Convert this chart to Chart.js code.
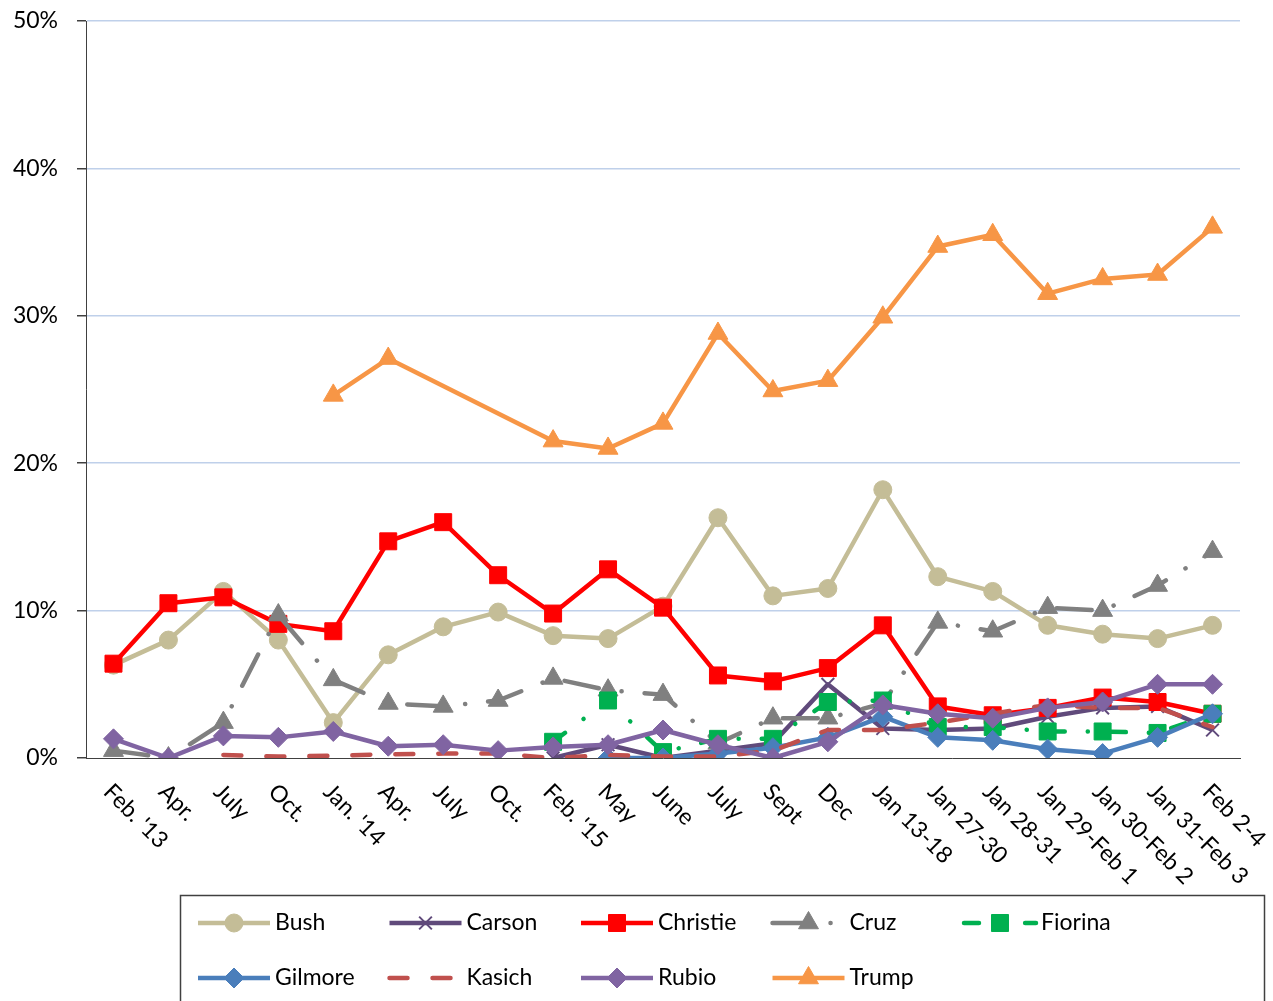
<!DOCTYPE html>
<html>
<head>
<meta charset="utf-8">
<script src="https://cdn.jsdelivr.net/npm/chart.js@4/dist/chart.umd.min.js"></script>
<style>
  html, body { margin: 0; padding: 0; background: #fff; }
  #wrap { width: 1273px; height: 1001px; position: relative; }
</style>
</head>
<body>
<div id="wrap"><canvas id="pollChart"></canvas></div>
<script>
// Poll data (percent)
const labels = ["Feb. '13", 'Apr.', 'July', 'Oct.', "Jan. '14", 'Apr.', 'July', 'Oct.', "Feb. '15", 'May', 'June', 'July', 'Sept', 'Dec',
    'Jan 13-18', 'Jan 27-30', 'Jan 28-31', 'Jan 29-Feb 1', 'Jan 30-Feb 2', 'Jan 31-Feb 3', 'Feb 2-4'];

const bush     = [6.3, 8.0, 11.3, 8.0, 2.4, 7.0, 8.9, 9.9, 8.3, 8.1, 10.3, 16.3, 11.0, 11.5, 18.2, 12.3, 11.3, 9.0, 8.4, 8.1, 9.0];
const carson   = [null, null, null, null, null, null, null, null, 0, 0.9, 0, 0.5, 1.0, 5.0, 2.0, 1.9, 2.0, 2.8, 3.4, 3.5, 1.9];
const christie = [6.4, 10.5, 10.9, 9.1, 8.6, 14.7, 16.0, 12.4, 9.8, 12.8, 10.2, 5.6, 5.2, 6.1, 9.0, 3.5, 2.9, 3.4, 4.1, 3.8, 3.0];
const cruz     = [0.5, 0, 2.4, 9.7, 5.3, 3.7, 3.5, 3.9, 5.4, 4.6, 4.3, 1.0, 2.7, 2.7, 3.7, 9.2, 8.6, 10.2, 10.0, 11.7, 14.0];
const fiorina  = [null, null, null, null, null, null, null, null, 1.1, 3.9, 0.4, 1.3, 1.3, 3.8, 3.9, 2.1, 2.1, 1.8, 1.8, 1.7, 3.0];
const gilmore  = [null, null, null, null, null, null, null, null, null, 0, 0, 0.3, 0.7, 1.4, 2.8, 1.4, 1.2, 0.6, 0.3, 1.4, 3.0];
const kasich   = [null, null, 0.2, 0.1, 0.15, 0.25, 0.3, 0.3, 0, 0.2, 0.1, 0.1, 0.5, 1.9, 1.9, 2.4, 3.0, 3.6, 3.4, 3.4, 2.1];
const rubio    = [1.3, 0, 1.5, 1.4, 1.8, 0.8, 0.9, 0.5, 0.75, 0.9, 1.9, 0.9, 0, 1.1, 3.6, 3.0, 2.7, 3.4, 3.8, 5.0, 5.0];
const trump    = [null, null, null, null, 24.6, 27.1, null, null, 21.5, 21.0, 22.7, 28.8, 24.9, 25.6, 29.9, 34.7, 35.5, 31.5, 32.5, 32.8, 36.0];

const names  = ['Bush', 'Carson', 'Christie', 'Cruz', 'Fiorina', 'Gilmore', 'Kasich', 'Rubio', 'Trump'];
const series = [bush, carson, christie, cruz, fiorina, gilmore, kasich, rubio, trump];

const FAMILY = 'Lato, "Open Sans", sans-serif';
const FONT = '23px ' + FAMILY;

// look of each line
const styles = {
    Bush:     { color: '#C4BD97', point: 'circle',   radius: 9 },
    Carson:   { color: '#604A7B', point: 'crossRot', radius: 9, pointWidth: 2 },
    Christie: { color: '#FF0000', point: 'rect',     radius: 12 },
    Cruz:     { color: '#808080', point: 'triangle', radius: 11.5, dash: [35, 23, 0.1, 23] },
    Fiorina:  { color: '#00B050', point: 'rect',     radius: 12, dash: [15, 23, 0.1, 23] },
    Gilmore:  { color: '#4A7EBB', point: 'rectRot',  radius: 10 },
    Kasich:   { color: '#C0504D', point: false,      radius: 0,  dash: [18, 25] },
    Rubio:    { color: '#8064A2', point: 'rectRot',  radius: 10 },
    Trump:    { color: '#F79646', point: 'triangle', radius: 11.5 }
};

const datasets = names.map(function(name, i) {
    const s = styles[name];
    return {
        label: name,
        data: series[i],
        borderColor: s.color,
        backgroundColor: s.color,
        borderWidth: 4.5,
        borderDash: s.dash || [],
        borderCapStyle: s.dash ? 'round' : 'butt',
        borderJoinStyle: 'round',
        pointStyle: s.point,
        pointRadius: s.radius,
        pointHoverRadius: s.radius,
        pointBorderWidth: s.pointWidth || 1,
        pointBackgroundColor: s.color,
        pointBorderColor: s.color,
        spanGaps: true,
        tension: 0,
        order: names.length - i
    };
});

// x labels slanted downward to the right
const slantedLabels = {
    id: 'slantedLabels',
    afterDraw(chart) {
        const ctx = chart.ctx;
        const xs = chart.scales.x;
        ctx.save();
        ctx.font = FONT;
        ctx.fillStyle = '#000';
        ctx.textAlign = 'left';
        ctx.textBaseline = 'middle';
        labels.forEach(function(lab, i) {
            const x = xs.getPixelForTick(i);
            ctx.save();
            ctx.translate(x - 6, xs.top + 30);
            ctx.rotate(Math.PI / 4);
            ctx.fillText(lab, 0, 0);
            ctx.restore();
        });
        ctx.restore();
    }
};

// boxed legend, 5 columns
const gridLegend = {
    id: 'gridLegend',
    afterDraw(chart) {
        const ctx = chart.ctx;
        const top = chart.chartArea.bottom + 137;
        ctx.save();
        ctx.strokeStyle = '#404040';
        ctx.lineWidth = 1.5;
        ctx.strokeRect(180.5, top + 0.5, 1084, 200);
        chart.data.datasets.forEach(function(ds, i) {
            const x = 196 + (i % 5) * 191.5;
            const y = top + 28 + Math.floor(i / 5) * 55;
            ctx.save();
            ctx.strokeStyle = ds.borderColor;
            ctx.lineWidth = ds.borderWidth;
            ctx.lineCap = ds.borderDash.length ? 'round' : 'butt';
            ctx.setLineDash(ds.borderDash);
            ctx.beginPath();
            ctx.moveTo(x + 2, y);
            ctx.lineTo(x + 74, y);
            ctx.stroke();
            ctx.restore();
            if (ds.pointStyle && Chart.helpers && Chart.helpers.drawPoint) {
                ctx.save();
                ctx.fillStyle = ds.pointBackgroundColor;
                ctx.strokeStyle = ds.pointBorderColor;
                ctx.lineWidth = ds.pointBorderWidth;
                Chart.helpers.drawPoint(ctx, {
                    pointStyle: ds.pointStyle, rotation: 0,
                    radius: ds.pointRadius, borderWidth: ds.pointBorderWidth
                }, x + 38, y);
                ctx.restore();
            }
            ctx.fillStyle = '#000';
            ctx.font = FONT;
            ctx.textAlign = 'left';
            ctx.textBaseline = 'middle';
            ctx.fillText(ds.label, x + 79, y);
        });
        ctx.restore();
    }
};

new Chart(document.getElementById('pollChart'), {
    type: 'line',
    data: { labels: labels, datasets: datasets },
    plugins: [slantedLabels, gridLegend],
    options: {
        responsive: true,
        maintainAspectRatio: false,
        animation: false,
        layout: { padding: { top: 21, right: 33, bottom: 106, left: 0 } },
        plugins: {
            legend: { display: false },
            tooltip: { enabled: false }
        },
        scales: {
            x: {
                offset: true,
                grid: { display: true, color: 'rgba(0,0,0,0)', drawTicks: false },
                border: { display: true, color: '#404040', width: 1 },
                ticks: { display: false },
                afterFit: function(scale) { scale.height = 137; }
            },
            y: {
                min: 0,
                max: 50,
                ticks: {
                    stepSize: 10,
                    padding: 19,
                    color: '#000',
                    font: { family: FAMILY, size: 23 },
                    callback: function(v) { return v + '%'; }
                },
                grid: {
                    color: function(c) { return c.tick && c.tick.value === 0 ? 'rgba(0,0,0,0)' : '#BFD0EA'; },
                    lineWidth: 1.5,
                    tickLength: 9,
                    tickColor: '#404040'
                },
                border: { display: true, color: '#404040', width: 1 },
                afterFit: function(scale) {
                    scale.width = 86;
                    scale.paddingTop = 0;
                    scale.paddingBottom = 0;
                }
            }
        }
    }
});
</script>
</body>
</html>
